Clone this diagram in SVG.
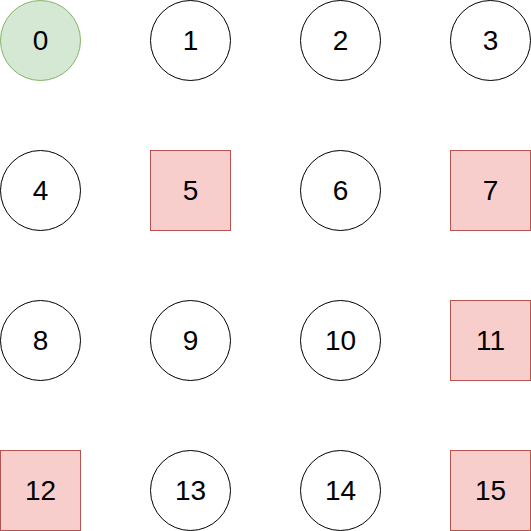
<svg xmlns="http://www.w3.org/2000/svg" width="531" height="531" viewBox="0 0 531 531">
<style>
.c{fill:#ffffff;stroke:#000000;stroke-width:1}
.g{fill:#d5e8d4;stroke:#82b366;stroke-width:1}
.r{fill:#f8cecc;stroke:#b85450;stroke-width:1}
text{font-family:"Liberation Sans",Arial,sans-serif;font-size:28px;fill:#000000;text-anchor:middle}
</style>
<rect width="531" height="531" fill="#ffffff"/>
<g id="connectors"></g>
<g id="n0"><circle class="g" cx="40.5" cy="40.5" r="40"/><text x="40.5" y="49.5">0</text></g>
<g id="n1"><circle class="c" cx="190.5" cy="40.5" r="40"/><text x="190.5" y="49.5">1</text></g>
<g id="n2"><circle class="c" cx="340.5" cy="40.5" r="40"/><text x="340.5" y="49.5">2</text></g>
<g id="n3"><circle class="c" cx="490.5" cy="40.5" r="40"/><text x="490.5" y="49.5">3</text></g>
<g id="n4"><circle class="c" cx="40.5" cy="190.5" r="40"/><text x="40.5" y="199.5">4</text></g>
<g id="n5"><rect class="r" x="150.5" y="150.5" width="80" height="80"/><text x="190.5" y="199.5">5</text></g>
<g id="n6"><circle class="c" cx="340.5" cy="190.5" r="40"/><text x="340.5" y="199.5">6</text></g>
<g id="n7"><rect class="r" x="450.5" y="150.5" width="80" height="80"/><text x="490.5" y="199.5">7</text></g>
<g id="n8"><circle class="c" cx="40.5" cy="340.5" r="40"/><text x="40.5" y="349.5">8</text></g>
<g id="n9"><circle class="c" cx="190.5" cy="340.5" r="40"/><text x="190.5" y="349.5">9</text></g>
<g id="n10"><circle class="c" cx="340.5" cy="340.5" r="40"/><text x="340.5" y="349.5">10</text></g>
<g id="n11"><rect class="r" x="450.5" y="300.5" width="80" height="80"/><text x="490.5" y="349.5">11</text></g>
<g id="n12"><rect class="r" x="0.5" y="450.5" width="80" height="80"/><text x="40.5" y="499.5">12</text></g>
<g id="n13"><circle class="c" cx="190.5" cy="490.5" r="40"/><text x="190.5" y="499.5">13</text></g>
<g id="n14"><circle class="c" cx="340.5" cy="490.5" r="40"/><text x="340.5" y="499.5">14</text></g>
<g id="n15"><rect class="r" x="450.5" y="450.5" width="80" height="80"/><text x="490.5" y="499.5">15</text></g>
</svg>
